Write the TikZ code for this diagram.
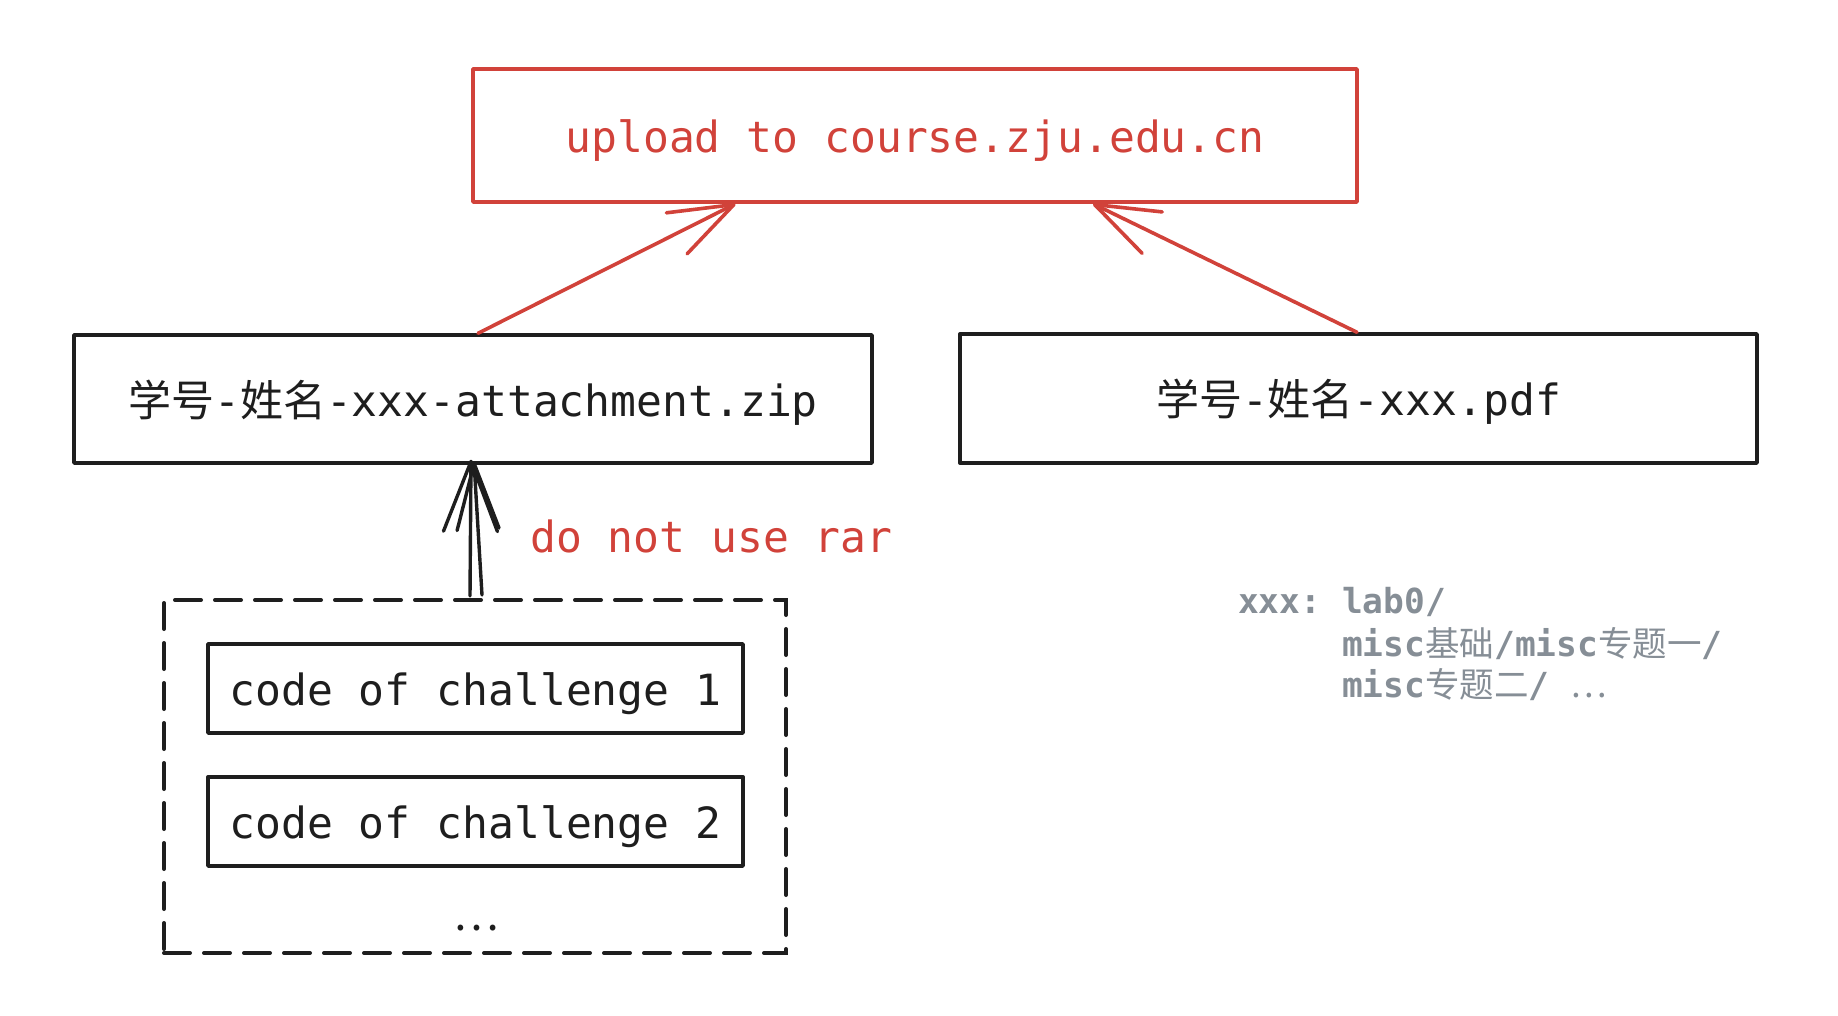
\documentclass[tikz,border=0pt]{standalone}
\usepackage{fontspec}
\setmainfont{DejaVu Sans Mono}
\newfontfamily\cjk{Noto Sans CJK SC}
\usetikzlibrary{arrows.meta}
\definecolor{xred}{RGB}{209,66,58}
\definecolor{xblack}{RGB}{30,30,30}
\definecolor{xgrey}{RGB}{134,142,150}
\frenchspacing
\begin{document}
\begin{tikzpicture}[x=1pt,y=-1pt,
  bigfont/.style={font=\fontsize{43}{50}\selectfont, text height=40pt, text depth=6pt},
  smallfont/.style={font=\fontsize{34.5}{42}\selectfont\bfseries},
  redbox/.style={draw=xred, line width=3.6pt, rectangle, inner sep=0pt, line join=round, text=xred, bigfont},
  blackbox/.style={draw=xblack, line width=3.4pt, rectangle, inner sep=0pt, line join=round, text=xblack, bigfont},
  dashbox/.style={draw=xblack, line width=4pt, rectangle, inner sep=0pt, dash pattern=on 26pt off 14pt, line cap=round},
  redarrow/.style={draw=xred, line width=3.6pt, line cap=round, -{Straight Barb[length=64pt,width=46pt,round]}},
  blackarrow/.style={draw=xblack, line width=3.4pt, line cap=round, -{Straight Barb[length=70pt,width=54pt,round]}},
  note/.style={text=xgrey, smallfont, anchor=base west, inner sep=0pt},
]
\useasboundingbox (0,0) rectangle (1838,1016);

\node[redbox, minimum width=884pt, minimum height=133pt] (up) at (915,135.5) {upload to course.zju.edu.cn};

\node[blackbox, minimum width=798pt, minimum height=128pt] (zip) at (473,399) {{\cjk 学号}-{\cjk 姓名}-xxx-attachment.zip};
\node[blackbox, minimum width=797pt, minimum height=129pt] (pdf) at (1358.5,398.5) {{\cjk 学号}-{\cjk 姓名}-xxx.pdf};

\node[dashbox, minimum width=622pt, minimum height=353pt] (dash) at (475,776.5) {};
\node[blackbox, minimum width=535pt, minimum height=89pt] (ch1) at (475.5,688.5) {code of challenge 1};
\node[blackbox, minimum width=535pt, minimum height=89pt] (ch2) at (475.5,821.5) {code of challenge 2};
\node[text=xblack, font=\fontsize{43}{50}\selectfont, inner sep=0pt, anchor=base] (dots) at (476,930) {{\cjk …}};

\draw[redarrow] ([xshift=5pt]zip.north) -- ([xshift=-179.5pt]up.south);
\draw[redarrow] ([xshift=-1.5pt]pdf.north) -- ([xshift=178pt]up.south);

\draw[blackarrow] ([xshift=-5pt,yshift=2pt]dash.north) -- ([xshift=-2pt,yshift=5pt]zip.south);
\draw[blackarrow, -{Straight Barb[length=66pt,width=42pt,round]}] ([xshift=7pt,yshift=3pt]dash.north) -- ([xshift=1pt,yshift=3pt]zip.south);

\node[text=xred, font=\fontsize{43}{50}\selectfont, anchor=base west, inner sep=0pt] (rar) at (530,552) {do not use rar};

\node[note] (n1) at (1238,613) {xxx: lab0/};
\node[note] (n2) at (1342,656) {misc{\cjk\mdseries 基础}/misc{\cjk\mdseries 专题一}/};
\node[note] (n3) at (1342,697) {misc{\cjk\mdseries 专题二}/ {\cjk\mdseries …}};
\end{tikzpicture}
\end{document}
